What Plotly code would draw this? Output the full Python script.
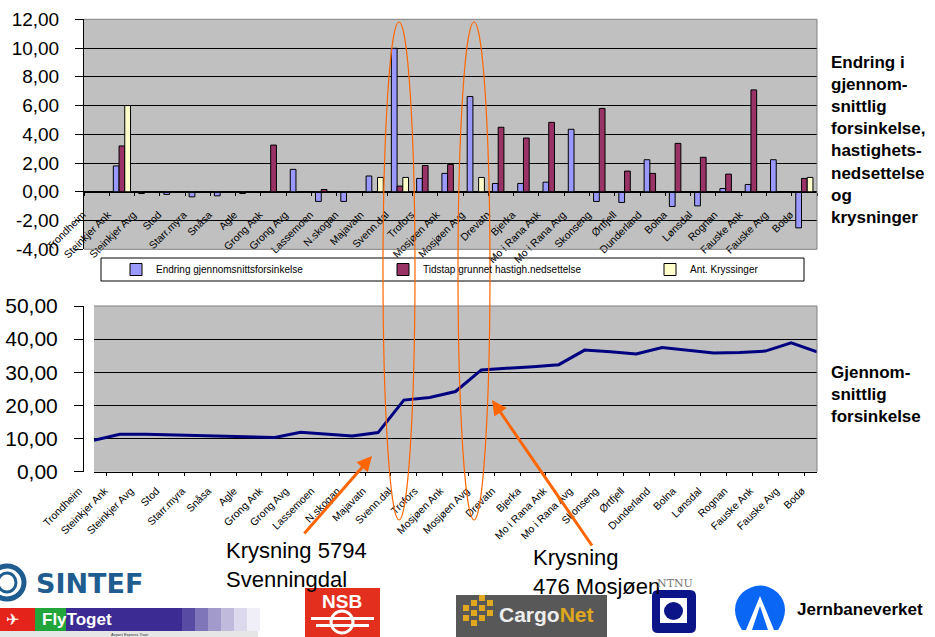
import plotly.graph_objects as go

W, H = 935, 637

STATIONS = ["Trondheim", "Steinkjer Ank", "Steinkjer Avg", "Stod", "Starr.myra", "Snåsa", "Agle",
            "Grong Ank", "Grong Avg", "Lassemoen", "N.skogan", "Majavatn", "Svenn.dal", "Trofors",
            "Mosjøen Ank", "Mosjøen Avg", "Drevatn", "Bjerka", "Mo i Rana Ank", "Mo i Rana Avg",
            "Skonseng", "Ørtfjell", "Dunderland", "Bolna", "Lønsdal", "Rognan", "Fauske Ank",
            "Fauske Avg", "Bodø"]

ENDRING = [None, 1.80, -0.12, -0.18, -0.35, -0.28, -0.12, None, 1.56, -0.67, -0.67, 1.10, 9.98, 0.93,
           1.28, 6.63, 0.58, 0.58, 0.67, 4.35, -0.67, -0.74, 2.23, -1.02, -0.98, 0.23, 0.51, 2.23, -2.51]
TIDSTAP = [None, 3.19, None, None, None, None, None, 3.25, None, 0.16, None, None, 0.40, 1.83,
           1.90, None, 4.49, 3.74, 4.83, None, 5.80, 1.44, 1.28, 3.37, 2.40, 1.23, 7.09, None, 0.93]
KRYSSINGER = [None, 6.0, None, None, None, None, None, None, None, None, None, 1.0, 1.0, None,
              None, 1.0, None, None, None, None, None, None, None, None, None, None, None, None, 1.0]
FORSINKELSE = [9.5, 11.3, 11.3, 11.1, 10.9, 10.75, 10.55, 10.35, 11.9, 11.3, 10.8, 11.8, 21.6, 22.4,
               24.2, 30.7, 31.1, 31.7, 32.3, 36.7, 36.2, 35.5, 37.5, 36.7, 35.8, 36.0, 36.4, 38.9, 36.2]

SERIES_NAMES = ["Endring gjennomsnittsforsinkelse", "Tidstap grunnet hastigh.nedsettelse", "Ant. Kryssinger"]
Y1_TICKS = [-4, -2, 0, 2, 4, 6, 8, 10, 12]
Y1_TEXT = ["-4,00", "-2,00", "0,00", "2,00", "4,00", "6,00", "8,00", "10,00", "12,00"]
Y2_TICKS = [0, 10, 20, 30, 40, 50]
Y2_TEXT = ["0,00", "10,00", "20,00", "30,00", "40,00", "50,00"]

FONT = "Liberation Sans, Arial, sans-serif"


def px(x):
    return x / W


def py(y):
    return 1 - y / H


fig = go.Figure()
colors = ["#9999FF", "#993366", "#FFFFCC"]
for name, vals, col in zip(SERIES_NAMES, [ENDRING, TIDSTAP, KRYSSINGER], colors):
    fig.add_trace(go.Bar(x=STATIONS, y=vals, name=name, marker=dict(color=col, line=dict(color="black", width=1)),
                         xaxis="x", yaxis="y"))

fig.add_trace(go.Scatter(x=STATIONS, y=FORSINKELSE, mode="lines", line=dict(color="#000080", width=3),
                         showlegend=False, xaxis="x2", yaxis="y2"))

top_y0, top_y1 = 249.3, 19.3
bot_y0, bot_y1 = 471.7, 306

fig.update_layout(
    width=W, height=H,
    margin=dict(l=0, r=0, t=0, b=0),
    paper_bgcolor="white",
    plot_bgcolor="#C0C0C0",
    font=dict(family=FONT, color="black"),
    barmode="group", bargap=0.32, bargroupgap=0,
    showlegend=True,
    legend=dict(orientation="h", x=px(116), y=py(269.5), xanchor="left", yanchor="middle",
                bgcolor="rgba(0,0,0,0)", font=dict(size=10, family=FONT, color="black"),
                entrywidth=222, entrywidthmode="pixels", itemwidth=30),
    xaxis=dict(domain=[px(84), px(817)], anchor="free", position=py(191.5),
               type="category", tickson="boundaries", ticks="outside", ticklen=3, tickcolor="black",
               showline=True, linecolor="black", linewidth=1, showgrid=False,
               tickangle=-45, tickfont=dict(size=10.5, family=FONT, color="black"),
               ticklabelshift=-14, ticklabelstandoff=12, automargin=False, fixedrange=True),
    yaxis=dict(domain=[py(top_y0), py(top_y1)], range=[-4, 12], tickvals=Y1_TICKS, ticktext=Y1_TEXT,
               ticks="outside", ticklen=8, tickcolor="black", showline=True, linecolor="black",
               showgrid=True, gridcolor="black", gridwidth=1, zeroline=False,
               tickfont=dict(size=19, family=FONT, color="black"), ticklabelstandoff=12,
               automargin=False, fixedrange=True),
    xaxis2=dict(domain=[px(94), px(817)], anchor="y2", type="category", tickson="boundaries",
                ticks="outside", ticklen=3, tickcolor="black", showline=True, linecolor="black",
                showgrid=False, tickangle=-45, tickfont=dict(size=10.5, family=FONT, color="black"),
                ticklabelshift=-15, ticklabelstandoff=8, automargin=False, fixedrange=True),
    yaxis2=dict(domain=[py(bot_y0), py(bot_y1)], range=[0, 50], tickvals=Y2_TICKS, ticktext=Y2_TEXT,
                ticks="outside", ticklen=9, tickcolor="black", showline=True, linecolor="black",
                showgrid=True, gridcolor="black", gridwidth=1, zeroline=False,
                tickfont=dict(size=21, family=FONT, color="black"), ticklabelstandoff=12,
                automargin=False, fixedrange=True),
)

shapes = []


def rect(x0, y0, x1, y1, fill=None, line=None, lw=1, layer="above", opacity=1):
    shapes.append(dict(type="rect", xref="paper", yref="paper", x0=px(x0), x1=px(x1), y0=py(y1), y1=py(y0),
                       fillcolor=fill if fill else "rgba(0,0,0,0)",
                       line=dict(color=line if line else "rgba(0,0,0,0)", width=lw if line else 0),
                       layer=layer, opacity=opacity))


def ellipse(x0, y0, x1, y1, fill=None, line=None, lw=1, layer="above"):
    shapes.append(dict(type="circle", xref="paper", yref="paper", x0=px(x0), x1=px(x1), y0=py(y1), y1=py(y0),
                       fillcolor=fill if fill else "rgba(0,0,0,0)",
                       line=dict(color=line if line else "rgba(0,0,0,0)", width=lw if line else 0),
                       layer=layer))


def path(d, fill=None, line=None, lw=1):
    shapes.append(dict(type="path", xref="paper", yref="paper", path=d,
                       fillcolor=fill if fill else "rgba(0,0,0,0)",
                       line=dict(color=line if line else "rgba(0,0,0,0)", width=lw if line else 0),
                       layer="above"))


def P(x, y):
    return f"{px(x):.5f},{py(y):.5f}"


# plot-area frames (grey top/right edges)
path(f"M{P(84, 249.3)} L{P(817, 249.3)} L{P(817, 19.3)} L{P(84, 19.3)}", line="#808080", lw=1)
path(f"M{P(94, 306)} L{P(817, 306)} L{P(817, 471.7)}", line="#808080", lw=1)

# legend box
rect(101, 258, 804, 281, line="black", lw=1)

# orange ellipses
ellipse(383, 22, 415, 520, line="#FF6600", lw=1.2)
ellipse(458, 22, 490, 520, line="#FF6600", lw=1.2)

# ---- logos (decorative) ----
# SINTEF
ellipse(-10, 566, 24, 599, line="#1F5C8F", lw=5, layer="above")
ellipse(-2, 573, 16, 592, line="#1F5C8F", lw=3, layer="above")
# Flytoget
rect(0, 608, 35, 631, fill="#E4231B")
rect(35, 608, 66, 631, fill="#22A539")
rect(66, 608, 182, 631, fill="#3B2B93")
for i, op in enumerate([0.85, 0.65, 0.48, 0.32, 0.18, 0.08]):
    rect(182 + i * 13, 608, 195 + i * 13, 631, fill="#3B2B93", opacity=op)
rect(0, 631, 258, 637, fill="#E6E6E6")
# NSB
rect(305, 588, 380, 637, fill="#E3301E")
rect(311, 617, 374, 620, fill="white")
rect(316, 624, 369, 627, fill="white")
ellipse(331, 611, 353, 633, line="white", lw=3)
# CargoNet
rect(456, 595, 607, 637, fill="#585858")
for (cx, cy) in [(466, 608), (474, 603), (474, 613), (482, 608), (482, 598), (482, 618), (490, 603),
                 (490, 613), (466, 618), (474, 623)]:
    rect(cx - 3, cy - 3, cx + 3, cy + 3, fill="#E0A81E")
# NTNU
path(f"M{P(658, 590)} L{P(690, 590)} Q{P(696, 590)} {P(696, 596)} L{P(696, 627)} Q{P(696, 633)} {P(690, 633)} "
     f"L{P(658, 633)} Q{P(652, 633)} {P(652, 627)} L{P(652, 596)} Q{P(652, 590)} {P(658, 590)} Z", fill="#0B1587")
rect(660, 598, 687, 623, fill="white")
ellipse(664, 602, 683, 620, fill="#0B1587")
# Jernbaneverket
path(f"M{P(742, 630)} L{P(778, 630)} Q{P(792, 608)} {P(778, 593)} Q{P(760, 578)} {P(742, 593)} "
     f"Q{P(728, 608)} {P(742, 630)} Z", fill="#0A66F5")
path(f"M{P(746, 630)} L{P(760, 596)} L{P(774, 630)} L{P(768, 630)} L{P(760, 606)} L{P(752, 630)} Z", fill="white")

fig.update_layout(shapes=shapes)

ann = []


def text(x, y, t, size, color="black", bold=False, xanchor="left", yanchor="middle", family=FONT, align="left"):
    ann.append(dict(xref="paper", yref="paper", x=px(x), y=py(y), text=f"<b>{t}</b>" if bold else t,
                    showarrow=False, xanchor=xanchor, yanchor=yanchor, align=align,
                    font=dict(size=size, color=color, family=family)))


text(829, 139.5, "Endring i<br>gjennom-<br>snittlig<br>forsinkelse,<br>hastighets-<br>nedsettelse<br>og<br>krysninger",
     17, bold=True)
text(829, 395, "Gjennom-<br>snittlig<br>forsinkelse", 17, bold=True)
text(224, 565, "Krysning 5794<br>Svenningdal", 22)
text(531, 572, "Krysning<br>476 Mosjøen", 22)

# arrows
ann.append(dict(xref="paper", yref="paper", x=px(372), y=py(456), ax=303 - 372, ay=535 - 456, text="",
                showarrow=True, arrowhead=2, arrowsize=1, arrowwidth=3, arrowcolor="#FF6600"))
ann.append(dict(xref="paper", yref="paper", x=px(492), y=py(400), ax=593 - 492, ay=547 - 400, text="",
                showarrow=True, arrowhead=2, arrowsize=1, arrowwidth=3, arrowcolor="#FF6600"))

# logo texts
text(34, 583, "SINTEF", 27, color="#1F5C8F", bold=True, family="DejaVu Sans, sans-serif")
text(12, 619, "✈", 16, color="white", xanchor="center")
text(40, 619, "FlyToget", 17, color="white", bold=True)
text(129, 634, "Airport Express Train", 4, color="#333333", xanchor="center")
text(342, 601, "NSB", 19, color="white", bold=True, xanchor="center")
ann.append(dict(xref="paper", yref="paper", x=px(497), y=py(614), showarrow=False, xanchor="left",
                yanchor="middle", text="<b><span style='color:#EDEDED'>Cargo</span><span style='color:#E0A81E'>Net</span></b>",
                font=dict(size=21, family=FONT)))
text(675, 583, "NTNU", 11, color="#777777", xanchor="center", family="DejaVu Serif, serif")
text(795, 609, "Jernbaneverket", 17, bold=True)

fig.update_layout(annotations=ann)

fig.write_html("out.html", config={"displayModeBar": False},
               post_script="document.body.style.margin='0';document.body.style.overflow='hidden';")
